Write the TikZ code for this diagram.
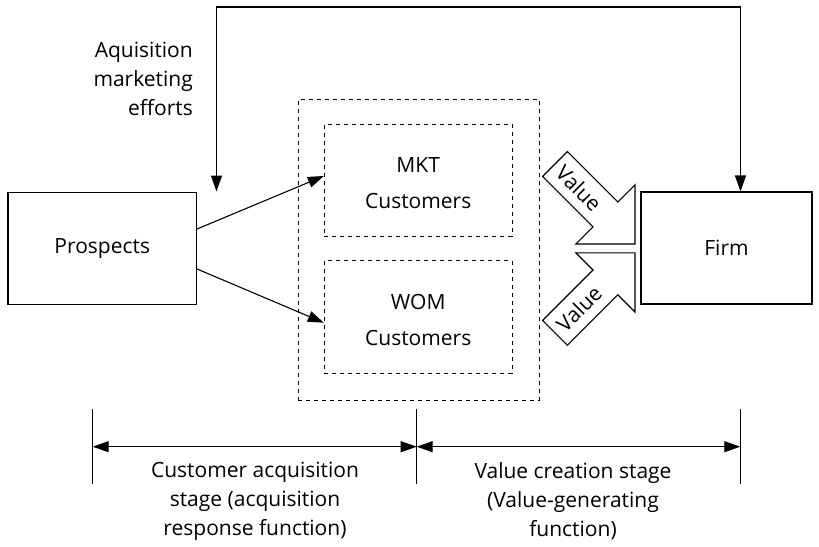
\documentclass[tikz,border=0pt]{standalone}
\usepackage{fontspec}
\setmainfont{Open Sans}
\usetikzlibrary{arrows.meta}
\begin{document}
\begin{tikzpicture}[x=1pt, y=-1pt,
  font=\fontsize{21}{29}\selectfont,
  solidbox/.style={draw, line width=1.1pt, inner sep=0pt},
  dashbox/.style={draw, line width=1pt, dash pattern=on 4pt off 4pt, inner sep=0pt, align=center},
  conn/.style={line width=1.1pt, -{Triangle[length=16pt, width=11pt]}},
  dimline/.style={line width=1.1pt, {Triangle[length=16pt, width=11pt]}-{Triangle[length=16pt, width=11pt]}},
  tick/.style={line width=1.1pt},
  blockarrow/.style={draw, line width=1.1pt, line join=miter}]
\useasboundingbox (0,0) rectangle (819,546);

% main boxes
\node[solidbox, minimum width=188.5pt, minimum height=112pt] (prospects) at (102.25,248.5) {Prospects};
\node[solidbox, minimum width=171pt, minimum height=112pt] (firm) at (726.5,248) {Firm};

% customer groups
\node[dashbox, minimum width=240.7pt, minimum height=301pt] (pool) at (418.65,249.5) {};
\node[dashbox, minimum width=187.7pt, minimum height=112pt] (mkt) at (418.2,180) {};
\node[dashbox, minimum width=187.7pt, minimum height=112.5pt] (wom) at (418.2,316.75) {};
\node[align=center, inner sep=0pt] (mkttext) at ([yshift=-3pt]mkt.center) {MKT\\[7pt]Customers};
\node[align=center, inner sep=0pt] (womtext) at ([yshift=-3pt]wom.center) {WOM\\[7pt]Customers};

% acquisition arrows
\draw[conn] ([yshift=19.5pt]prospects.east) -- ([yshift=4pt]mkt.west);
\draw[conn] ([yshift=-20.5pt]prospects.east) -- ([yshift=-6pt]wom.west);

% marketing effort loop
\coordinate (effortin) at (216.5,191.5);
\coordinate (loopR) at (740.5,7);
\draw[line width=1.1pt, {Triangle[length=16pt, width=11pt]}-{Triangle[length=16pt, width=11pt]}]
  (effortin) |- (loopR) -- (loopR |- firm.north);
\node[align=right, anchor=east, inner sep=0pt] (efforts) at (193,79) {Aquisition\\marketing\\efforts};

% value block arrows
\draw[blockarrow] (542.6,176.4) -- (567.4,151.6) -- (617.8,202) -- (635,184.8)
  -- (635,244) -- (575.8,244) -- (593,226.8) -- cycle;
\node[rotate=-45] (value1) at (579,188) {Value};
\draw[blockarrow] (542.6,320.4) -- (567.4,345.2) -- (617.8,294.8) -- (635,312)
  -- (635,252.8) -- (575.8,252.8) -- (593,270) -- cycle;
\node[rotate=45] (value2) at (579,308.8) {Value};

% stage dimension lines
\coordinate (d1) at (92.7,446.7);
\coordinate (d2) at (416.7,446.7);
\coordinate (d3) at (740.3,446.7);
\foreach \p in {d1,d2,d3}
  \draw[tick] ([yshift=37.7pt]\p) -- ([yshift=-37.3pt]\p);
\draw[dimline] (d1) -- (d2);
\draw[dimline] (d2) -- (d3);

\node[align=center] (acqlabel) at (255,501) {Customer acquisition\\stage (acquisition\\response function)};
\node[align=center] (vallabel) at (573,501) {Value creation stage\\(Value-generating\\function)};
\end{tikzpicture}
\end{document}
